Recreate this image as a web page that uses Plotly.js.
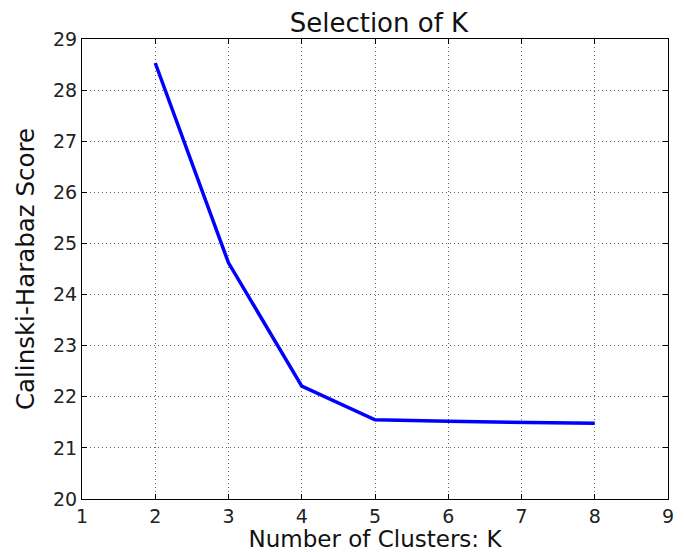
<!DOCTYPE html>
<html>
<head>
<meta charset="utf-8">
<script src="https://cdn.plot.ly/plotly-3.0.1.min.js"></script>
<style>html,body{margin:0;padding:0;background:#fff;}#chart{width:684px;height:552px;}</style>
</head>
<body>
<div id="chart"></div>
<script>
const kValues = [2, 3, 4, 5, 6, 7, 8];
const chScores = [28.53, 24.62, 22.21, 21.55, 21.52, 21.50, 21.48];
const xTicks = [1, 2, 3, 4, 5, 6, 7, 8, 9];
const yTicks = [20, 21, 22, 23, 24, 25, 26, 27, 28, 29];

const font = 'DejaVu Sans, sans-serif';
const trace = {
  x: kValues, y: chScores, type: 'scatter', mode: 'lines',
  line: {color: '#0000ff', width: 3.5},
  hoverinfo: 'none'
};
const axisCommon = {
  showline: true, linecolor: '#000', linewidth: 1, mirror: 'ticks',
  ticks: 'inside', ticklen: 5, tickwidth: 1, tickcolor: '#000',
  showgrid: true, gridcolor: '#666', griddash: '1px,3px', gridwidth: 1,
  zeroline: false, tickfont: {family: font, size: 19, color: '#222'},
  tickmode: 'array'
};
const layout = {
  width: 684, height: 552,
  margin: {l: 82, r: 16, t: 39, b: 53},
  paper_bgcolor: '#fff', plot_bgcolor: '#fff',
  showlegend: false,
  title: {text: 'Selection of K', font: {family: font, size: 26, color: '#111'},
          x: 0.554, xanchor: 'center', y: 0.958, yanchor: 'middle', yref: 'container'},
  xaxis: Object.assign({}, axisCommon, {
    range: [1, 9], tickvals: xTicks, ticktext: xTicks.map(String),
    title: {text: 'Number of Clusters: K', font: {family: font, size: 23, color: '#111'}, standoff: 8}
  }),
  yaxis: Object.assign({}, axisCommon, {
    range: [20, 29], tickvals: yTicks, ticktext: yTicks.map(String),
    title: {text: 'Calinski-Harabaz Score', font: {family: font, size: 24.5, color: '#111'}, standoff: 11}
  })
};
Plotly.newPlot('chart', [trace], layout, {staticPlot: true, displayModeBar: false});
</script>
</body>
</html>
